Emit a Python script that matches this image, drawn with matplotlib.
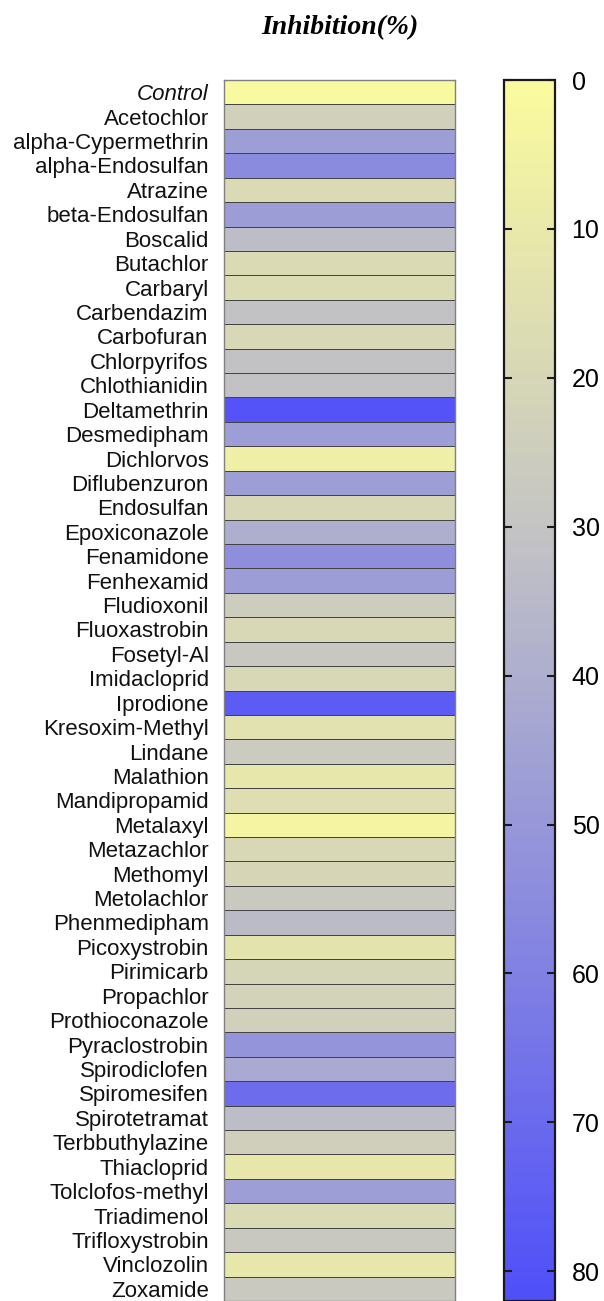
import numpy as np
import matplotlib as mpl
mpl.use('Agg')
import matplotlib.pyplot as plt
from matplotlib.colors import LinearSegmentedColormap, Normalize

# compounds tested, top to bottom
compounds = ['Control', 'Acetochlor', 'alpha-Cypermethrin', 'alpha-Endosulfan', 'Atrazine',
             'beta-Endosulfan', 'Boscalid', 'Butachlor', 'Carbaryl', 'Carbendazim',
             'Carbofuran', 'Chlorpyrifos', 'Chlothianidin', 'Deltamethrin', 'Desmedipham',
             'Dichlorvos', 'Diflubenzuron', 'Endosulfan', 'Epoxiconazole', 'Fenamidone',
             'Fenhexamid', 'Fludioxonil', 'Fluoxastrobin', 'Fosetyl-Al', 'Imidacloprid',
             'Iprodione', 'Kresoxim-Methyl', 'Lindane', 'Malathion', 'Mandipropamid',
             'Metalaxyl', 'Metazachlor', 'Methomyl', 'Metolachlor', 'Phenmedipham',
             'Picoxystrobin', 'Pirimicarb', 'Propachlor', 'Prothioconazole', 'Pyraclostrobin',
             'Spirodiclofen', 'Spiromesifen', 'Spirotetramat', 'Terbbuthylazine', 'Thiacloprid',
             'Tolclofos-methyl', 'Triadimenol', 'Trifloxystrobin', 'Vinclozolin', 'Zoxamide']

# inhibition (%)
inhibition = [1, 23, 47, 56, 18,
              48, 33, 18, 17, 31,
              19, 31, 31, 80, 47,
              7, 47, 19, 40, 54,
              48, 25, 19, 28, 19,
              76, 14, 26, 11, 16,
              4, 19, 20, 27, 34,
              13, 21, 22, 23, 51,
              42, 69, 33, 24, 11,
              47, 18, 28, 11, 27]

cb_ticks = [0, 10, 20, 30, 40, 50, 60, 70, 80]
vmax = 82

cmap = LinearSegmentedColormap.from_list(
    'inhib', [(0.0, '#FBFB9E'), (30 / vmax, '#C4C4C4'), (1.0, '#4F4FFA')])
norm = Normalize(0, vmax)

plt.rcParams['font.family'] = ['Liberation Sans', 'DejaVu Sans']

fig = plt.figure(figsize=(6.04, 13.01), dpi=100)
ax = fig.add_axes([0.3709, 0.0, 0.3825, 0.9385])
cax = fig.add_axes([0.8344, 0.0, 0.0844, 0.9385])

n = len(compounds)
data = np.array(inhibition, dtype=float).reshape(-1, 1)
ax.pcolormesh(np.arange(2), np.arange(n + 1), data, cmap=cmap, norm=norm,
              edgecolors='#444444', linewidth=0.6)
ax.set_ylim(n, 0)
ax.set_xlim(0, 1)
ax.set_xticks([])
ax.set_yticks(np.arange(n) + 0.5)
ax.set_yticklabels(compounds, fontsize=16, color='#111111')
ax.get_yticklabels()[0].set_style('italic')
ax.tick_params(axis='y', length=0, pad=11)
for s in ax.spines.values():
    s.set_color('#808080')
    s.set_linewidth(1.0)

cb = fig.colorbar(mpl.cm.ScalarMappable(norm=norm, cmap=cmap), cax=cax, ticks=cb_ticks)
cb.ax.invert_yaxis()
cb.outline.set_linewidth(1.6)
cb.outline.set_edgecolor('#1a1a1a')
cax.tick_params(direction='in', left=True, right=True, length=6, width=1.5,
                labelsize=18, pad=12, color='#1a1a1a')

fig.text(0.563, 0.979, 'Inhibition(%)', ha='center', va='center', fontsize=20,
         fontweight='bold', fontstyle='italic', family='Liberation Serif')

fig.savefig('out.png', dpi=100)
